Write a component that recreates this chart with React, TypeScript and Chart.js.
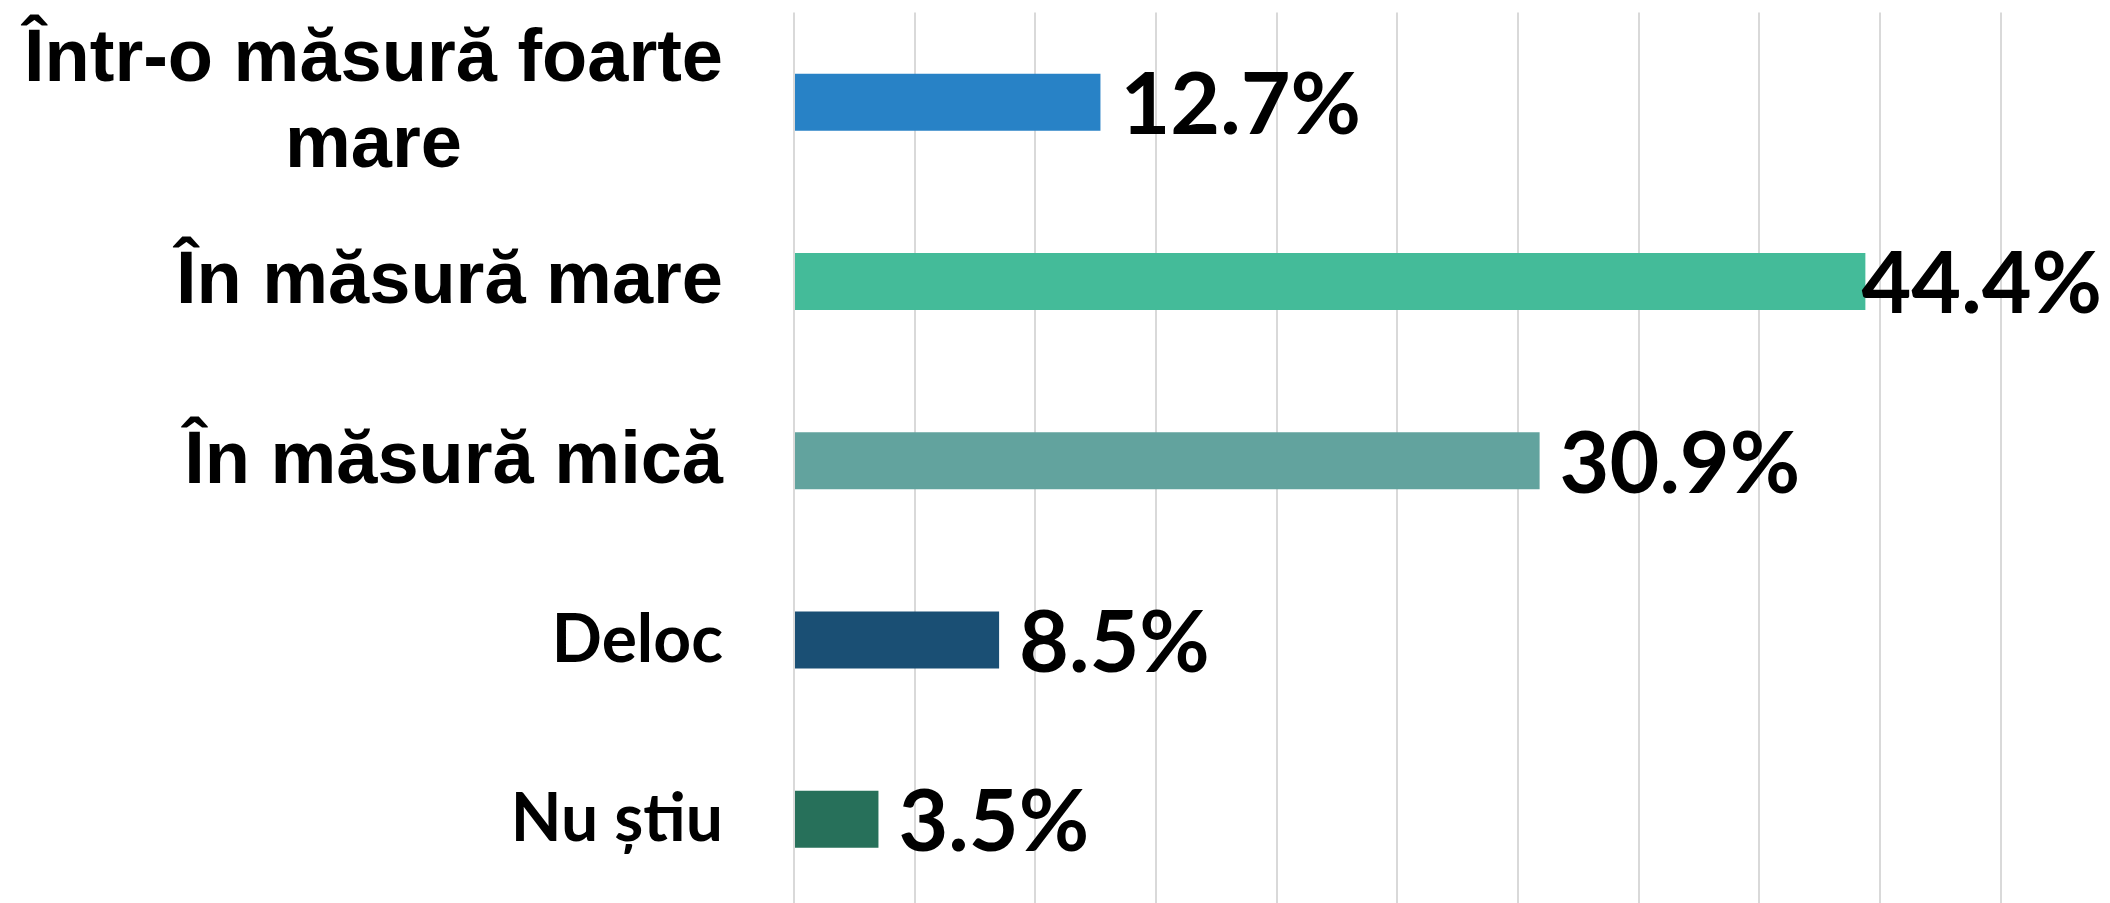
import React, { useEffect, useRef } from "react";
import { Chart, registerables } from "chart.js";

Chart.register(...registerables);

const categories: string[][] = [
  ["Într-o măsură foarte", "mare"],
  ["În măsură mare"],
  ["În măsură mică"],
  ["Deloc"],
  ["Nu știu"],
];
const values = [12.7, 44.4, 30.9, 8.5, 3.5];
const valueLabels = ["12.7%", "44.4%", "30.9%", "8.5%", "3.5%"];
const barColors = ["#2882C6", "#44BB99", "#62A39E", "#1A4F74", "#27705A"];
const xMin = 0;
const xMax = 50;
const xStep = 5;

const labelPlugin = {
  id: "customLabels",
  afterDatasetsDraw(chart: any) {
    const ctx: CanvasRenderingContext2D = chart.ctx;
    const ys = chart.scales.y;
    const xs = chart.scales.x;
    ctx.save();
    ctx.fillStyle = "#000000";
    ctx.textBaseline = "alphabetic";
    // category labels
    const rightEdge = 723;
    categories.forEach((lines, i) => {
      const cy = ys.getPixelForValue(i);
      ctx.font = i < 3
        ? 'bold 74px "Liberation Sans", Arial, sans-serif'
        : 'bold 66px Lato, "Noto Sans", sans-serif';
      const widths = lines.map((l) => ctx.measureText(l).width);
      const maxW = Math.max(...widths);
      ctx.textAlign = "center";
      const cx = rightEdge - maxW / 2;
      if (lines.length === 1) {
        ctx.fillText(lines[0], cx, cy + 22);
      } else {
        lines.forEach((l, k) => ctx.fillText(l, cx, cy - 21 + k * 86));
      }
    });
    // value labels
    ctx.font = 'bold 86px Lato, "Noto Sans", sans-serif';
    ctx.textAlign = "left";
    values.forEach((v, i) => {
      const cy = ys.getPixelForValue(i);
      const txt = valueLabels[i];
      const w = ctx.measureText(txt).width;
      let x0 = xs.getPixelForValue(v) + 20;
      if (x0 + w > chart.width - 8) x0 = chart.width - 8 - w;
      ctx.fillText(txt, x0, cy + 32);
    });
    ctx.restore();
  },
};

export default function App() {
  const canvasRef = useRef<HTMLCanvasElement | null>(null);
  useEffect(() => {
    const canvas = canvasRef.current;
    if (!canvas) return;
    const chart = new Chart(canvas, {
      type: "bar",
      data: {
        labels: categories.map((c) => c.join(" ")),
        datasets: [
          {
            data: values,
            backgroundColor: barColors,
            borderWidth: 0,
            barPercentage: 0.318,
            categoryPercentage: 1,
          },
        ],
      },
      options: {
        indexAxis: "y",
        responsive: false,
        animation: false,
        devicePixelRatio: 1,
        layout: { padding: { left: 794, right: 109.5, top: 12.5, bottom: 3 } },
        plugins: {
          legend: { display: false },
          tooltip: { enabled: false },
          title: { display: false },
        },
        scales: {
          x: {
            min: xMin,
            max: xMax,
            display: true,
            ticks: { display: false, stepSize: xStep },
            grid: { color: "#D9D9D9", lineWidth: 2, drawTicks: false },
            border: { display: false },
          },
          y: {
            display: false,
          },
        },
      },
      plugins: [labelPlugin],
    });
    return () => chart.destroy();
  }, []);

  return (
    <div
      style={{
        position: "fixed",
        left: 0,
        top: 0,
        width: 2110,
        height: 903,
        overflow: "hidden",
        background: "#ffffff",
      }}
    >
      <canvas ref={canvasRef} width={2110} height={912} style={{ display: "block" }} />
    </div>
  );
}
